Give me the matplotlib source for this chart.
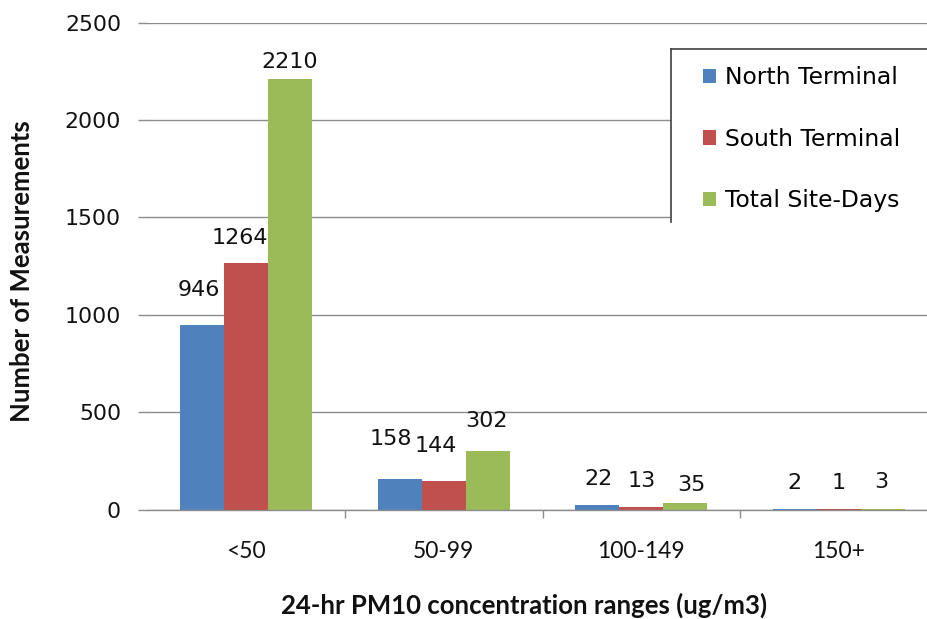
import matplotlib
matplotlib.use("Agg")
import matplotlib.pyplot as plt
from matplotlib.patches import Patch, Rectangle
from matplotlib.lines import Line2D
import numpy as np

categories = ["<50", "50-99", "100-149", "150+"]
series_names = ["North Terminal", "South Terminal", "Total Site-Days"]
north = [946, 158, 22, 2]
south = [1264, 144, 13, 1]
total = [2210, 302, 35, 3]
y_ticks = [0, 500, 1000, 1500, 2000, 2500]

colors = ["#4F81BD", "#C0504D", "#9BBB59"]
grid_color = "#8C8C8C"

W, H = 927, 619
fig = plt.figure(figsize=(W / 100, H / 100), dpi=100)

def fx(px):
    return px / W

def fy(py):
    return 1 - py / H

left, right = 147.5, 937.5
top, bottom = 22.7, 509.5
ax = fig.add_axes([fx(left), fy(bottom), (right - left) / W, (bottom - top) / H])

bw = 44.0 / 197.5
x = np.arange(len(categories))
series = [north, south, total]
for i, (vals, c) in enumerate(zip(series, colors)):
    ax.bar(x + (i - 1) * bw, vals, width=bw, color=c, edgecolor="none",
           zorder=3, label=series_names[i])

# data labels: per-label pixel offsets (dx, dy) from bar top centre
offsets = [
    [(-3, 35), (-9, 40), (1, 26), (0, 26)],
    [(-6, 25), (-8, 35), (0, 26), (0, 26)],
    [(-1, 17), (-1, 30), (6, 18), (-1, 27)],
]
for i, vals in enumerate(series):
    for j, v in enumerate(vals):
        dx, dy = offsets[i][j]
        ax.annotate(str(v), (x[j] + (i - 1) * bw, v), xytext=(dx * 0.72, dy * 0.72),
                    textcoords="offset points", ha="center", va="center",
                    fontsize=16, family="DejaVu Sans", color="#111111", zorder=5)

ax.set_xlim(-0.5, 3.5)
ax.set_ylim(0, 2500)
ax.set_yticks(y_ticks)
ax.set_yticklabels([str(t) for t in y_ticks], fontsize=15.8, family="DejaVu Sans")
ax.yaxis.grid(True, color=grid_color, linewidth=1.0, zorder=0)
ax.set_axisbelow(True)
ax.tick_params(axis="y", length=7, width=1.0, pad=12, labelcolor="#111111", color=grid_color)

ax.set_xticks(x)
ax.set_xticklabels(categories, fontsize=16.5, family="Lato")
ax.tick_params(axis="x", length=0, pad=23, labelcolor="#111111")
ax.set_xticks([0.5, 1.5, 2.5], minor=True)
ax.tick_params(axis="x", which="minor", length=6, width=1.0, color=grid_color, direction="out")

for s in ["top", "right", "left"]:
    ax.spines[s].set_visible(False)
ax.spines["bottom"].set_color(grid_color)
ax.spines["bottom"].set_linewidth(1.0)
ax.spines["bottom"].set_zorder(4)

# axis titles
fig.text(fx(524), fy(605), "24-hr PM10 concentration ranges (ug/m3)", ha="center", va="center",
         fontsize=18.5, fontweight="bold", family="Lato", color="#111111")
fig.text(fx(22), fy(271), "Number of Measurements", ha="center", va="center", rotation=90,
         fontsize=18.5, fontweight="bold", family="Lato", color="#111111")

# legend box (cropped at right, as in the reference)
bg = Rectangle((fx(671), fy(222)), fx(400), (222 - 49) / H, transform=fig.transFigure,
               facecolor="white", edgecolor="none", zorder=10)
fig.patches.append(bg)
fig.lines.append(Line2D([fx(671), fx(671)], [fy(222), fy(49)], transform=fig.transFigure,
                        color="#404040", linewidth=1.2, zorder=10.5))
fig.lines.append(Line2D([fx(671), fx(930)], [fy(49), fy(49)], transform=fig.transFigure,
                        color="#404040", linewidth=1.2, zorder=10.5))
handles = [Patch(facecolor=c, edgecolor="none") for c in colors]
leg = fig.legend(handles, series_names, loc="upper left",
                 bbox_to_anchor=(fx(703), fy(66.5)), frameon=False,
                 prop={"family": "DejaVu Sans", "size": 16.9},
                 handlelength=0.55, handleheight=0.55, handletextpad=0.4,
                 labelspacing=1.63, borderpad=0, borderaxespad=0)
leg.set_zorder(11)

fig.savefig("out.png", dpi=100)
